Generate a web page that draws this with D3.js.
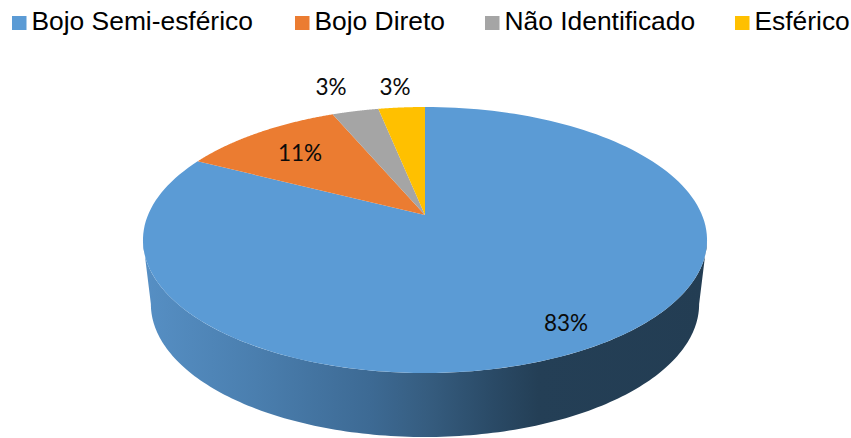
<!DOCTYPE html>
<html><head><meta charset="utf-8">
<script src="https://cdn.jsdelivr.net/npm/d3@7"></script>
<style>html,body{margin:0;background:#fff}svg{display:block}</style></head>
<body><svg id="c" width="851" height="438"></svg>
<script>
const categories = ["Bojo Semi-esférico","Bojo Direto","Não Identificado","Esférico"];
const values = [82.5,11.1,3.2,3.2];
const labels = ["83%","11%","3%","3%"];
const colors = ["#5b9bd5","#eb7c31","#a5a5a5","#ffc000"];

const W=851,H=438;
const svg=d3.select("#c");
// perspective disc projection
const cx=425, cy=215, persp=0.188, kx=277, ky=128.3;
const proj=(u,v,sx=1,sy=1,dy=0)=>{const d=1-persp*v;return [cx+sx*kx*u/d, cy+dy+sy*ky*v/d];};
const at=(a,sx=1,sy=1,dy=0)=>proj(Math.sin(a),-Math.cos(a),sx,sy,dy);
const line=d3.line();
const pie=d3.pie().sort(null).value(d=>d)(values);
const samples=(a0,a1,n=160)=>d3.range(n+1).map(i=>a0+(a1-a0)*i/n);

// side wall
const sideSx=0.972, sideSy=1, sideDy=64;
const defs=svg.append("defs");
const grad=defs.append("linearGradient").attr("id","side").attr("gradientUnits","userSpaceOnUse")
  .attr("x1",145).attr("x2",707).attr("y1",0).attr("y2",0);
[[0,"#568fc4"],[0.2,"#4a7eae"],[0.4,"#3d6a94"],[0.5,"#365d80"],[0.62,"#2a4a66"],[0.7,"#243f56"],[1,"#233d53"]]
 .forEach(([o,c])=>grad.append("stop").attr("offset",o).attr("stop-color",c));
const tang=Math.asin(persp); // angle where the disc silhouette is widest
const a0=Math.PI/2+tang, a1=3*Math.PI/2-tang;
const front=samples(a0,a1);
const sidePts=[...front.map(a=>at(a)),...front.slice().reverse().map(a=>at(a,sideSx,sideSy,sideDy))];
svg.append("path").attr("d",line(sidePts)+"Z").attr("fill","url(#side)");

// top face
svg.selectAll("path.slice").data(pie).join("path").attr("class","slice")
  .attr("fill",(d,i)=>colors[i])
  .attr("d",d=>line([[cx,cy],...samples(d.startAngle,d.endAngle).map(a=>at(a))])+"Z");

// data labels
const labelPos=[[566,322],[300,152],[331,86],[395,86]];
svg.selectAll("text.lab").data(labels).join("text").attr("class","lab")
  .attr("x",(d,i)=>labelPos[i][0]).attr("y",(d,i)=>labelPos[i][1])
  .attr("text-anchor","middle").attr("dominant-baseline","central")
  .attr("font-family","Lato").attr("font-size",22.5).attr("fill","#0a0a0a").text(d=>d);

// legend
const lx=d3.scaleOrdinal(categories,[12,295,485,735]);
const g=svg.selectAll("g.leg").data(categories).join("g").attr("class","leg")
  .attr("transform",d=>`translate(${lx(d)},0)`);
g.append("rect").attr("y",16).attr("width",14.5).attr("height",14).attr("fill",(d,i)=>colors[i]);
g.append("text").attr("transform","translate(19.5,30) scale(1.056,1)").attr("font-family","'Liberation Sans'").attr("font-size",25).attr("fill","#000").text(d=>d);
</script></body></html>
